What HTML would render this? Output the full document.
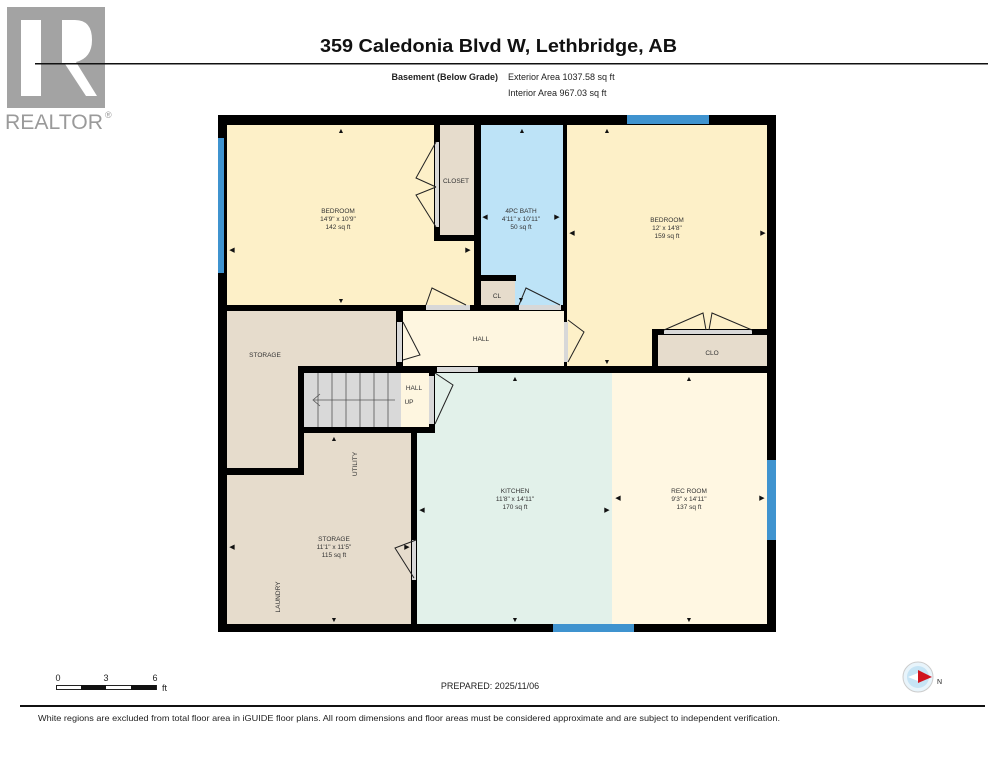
<!DOCTYPE html>
<html><head><meta charset="utf-8"><style>
html,body{margin:0;padding:0;background:#fff;}
svg{display:block;font-family:"Liberation Sans",sans-serif;}
</style></head><body>
<svg width="994" height="768" viewBox="0 0 994 768" xmlns="http://www.w3.org/2000/svg">
<!-- logo -->
<rect x="7" y="7" width="98" height="101" fill="#a3a3a3"/>
<rect x="21" y="20" width="20" height="76" fill="#fff"/>
<path d="M62 20 H75 Q92 20 92 40 Q92 58 76 62 L97 96 H86 L65 64 H62 Z" fill="#fff"/>
<text x="5" y="129" font-size="21" fill="#9a9a9a" textLength="98" lengthAdjust="spacingAndGlyphs">REALTOR</text>
<text x="105" y="118" font-size="9" fill="#9a9a9a">®</text>
<!-- header -->
<text x="320" y="52" font-size="18" font-weight="bold" fill="#111" textLength="357" lengthAdjust="spacingAndGlyphs">359 Caledonia Blvd W, Lethbridge, AB</text>
<rect x="35" y="63" width="953" height="1.5" fill="#111"/>
<text x="498" y="80" font-size="9" font-weight="bold" text-anchor="end" fill="#222">Basement (Below Grade)</text>
<text x="508" y="80" font-size="9" fill="#222">Exterior Area 1037.58 sq ft</text>
<text x="508" y="96" font-size="9" fill="#222">Interior Area 967.03 sq ft</text>

<!-- walls background -->
<rect x="218" y="115" width="558" height="517" fill="#000"/>
<!-- rooms -->
<rect x="227" y="125" width="247" height="180" fill="#fdf0c8"/>
<rect x="440" y="125" width="34" height="110" fill="#e6dccc"/>
<rect x="434" y="125" width="6" height="110" fill="#000"/>
<rect x="434" y="235" width="40" height="6" fill="#000"/>
<rect x="435" y="142" width="4" height="85" fill="#d8d8d8"/>
<rect x="481" y="125" width="82" height="180" fill="#bde3f7"/>
<rect x="481" y="275" width="35" height="6" fill="#000"/>
<rect x="481" y="281" width="34" height="24" fill="#e6dccc"/>
<rect x="567" y="125" width="200" height="241" fill="#fdf0c8"/>
<rect x="652" y="329" width="115" height="6" fill="#000"/>
<rect x="652" y="329" width="6" height="39" fill="#000"/>
<rect x="658" y="335" width="109" height="31" fill="#e6dccc"/>
<rect x="403" y="311" width="161" height="55" fill="#fef6e0"/>
<rect x="227" y="311" width="169" height="157" fill="#e6dccc"/>
<rect x="227" y="475" width="184" height="149" fill="#e6dccc"/>
<rect x="304" y="433" width="107" height="42" fill="#e6dccc"/>
<rect x="417" y="373" width="195" height="251" fill="#e2f1ea"/>
<rect x="612" y="373" width="155" height="251" fill="#fff7e2"/>
<!-- stair walls -->
<rect x="298" y="366" width="140" height="7" fill="#000"/>
<rect x="298" y="366" width="6" height="109" fill="#000"/>
<rect x="298" y="427" width="137" height="6" fill="#000"/>
<rect x="429" y="366" width="6" height="67" fill="#000"/>
<!-- stairs -->
<rect x="304" y="373" width="97" height="54" fill="#d9d9d9"/>
<g stroke="#555" stroke-width="0.8">
<line x1="318" y1="373" x2="318" y2="427"/><line x1="332" y1="373" x2="332" y2="427"/>
<line x1="346" y1="373" x2="346" y2="427"/><line x1="360" y1="373" x2="360" y2="427"/>
<line x1="374" y1="373" x2="374" y2="427"/><line x1="388" y1="373" x2="388" y2="427"/>
<line x1="314" y1="400" x2="395" y2="400"/><polyline points="320,394 313,400 320,406" fill="none"/>
</g>
<rect x="401" y="373" width="28" height="54" fill="#fef6e0"/>
<rect x="429" y="376" width="5" height="48" fill="#d8d8d8"/>
<!-- door gaps -->
<rect x="426" y="305" width="44" height="5" fill="#d8d8d8"/>
<rect x="519" y="305" width="42" height="5" fill="#d8d8d8"/>
<rect x="397" y="322" width="5" height="40" fill="#d8d8d8"/>
<rect x="564" y="322" width="4" height="40" fill="#d8d8d8"/>
<rect x="437" y="367" width="41" height="5" fill="#d8d8d8"/>
<rect x="412" y="540" width="4" height="40" fill="#d8d8d8"/>
<rect x="664" y="330" width="88" height="4" fill="#d8d8d8"/>
<!-- windows -->
<rect x="218" y="138" width="6" height="135" fill="#3f93cf"/>
<rect x="627" y="115" width="82" height="9" fill="#3f93cf"/>
<rect x="767" y="460" width="9" height="80" fill="#3f93cf"/>
<rect x="553" y="624" width="81" height="8" fill="#3f93cf"/>
<!-- door swings -->
<g fill="none" stroke="#222" stroke-width="1">
<polyline points="436,142 416,178 436,187"/><polyline points="436,227 416,195 436,187"/>
<polyline points="426,305 432,288 466,305"/>
<polyline points="519,305 526,288 560,305"/>
<polyline points="403,322 420,355 403,360"/>
<polyline points="568,320 584,332 568,362"/>
<polyline points="664,330 703,313 706,330"/><polyline points="752,330 712,313 709,330"/>
<polyline points="435,373 453,385 435,424"/>
<polyline points="416,540 395,548 414,578"/>
</g>
<!-- labels -->
<g font-size="6.5" fill="#333" text-anchor="middle">
<text x="338" y="213">BEDROOM</text><text x="338" y="221">14'9" x 10'9"</text><text x="338" y="229">142 sq ft</text>
<text x="456" y="183">CLOSET</text>
<text x="521" y="213">4PC BATH</text><text x="521" y="221">4'11" x 10'11"</text><text x="521" y="229">50 sq ft</text>
<text x="497" y="298">CL</text>
<text x="667" y="222">BEDROOM</text><text x="667" y="230">12' x 14'8"</text><text x="667" y="238">159 sq ft</text>
<text x="712" y="355">CLO</text>
<text x="481" y="341">HALL</text>
<text x="265" y="357">STORAGE</text>
<text x="414" y="390">HALL</text><text x="409" y="404">UP</text>
<text x="515" y="493">KITCHEN</text><text x="515" y="501">11'8" x 14'11"</text><text x="515" y="509">170 sq ft</text>
<text x="689" y="493">REC ROOM</text><text x="689" y="501">9'3" x 14'11"</text><text x="689" y="509">137 sq ft</text>
<text x="334" y="541">STORAGE</text><text x="334" y="549">11'1" x 11'5"</text><text x="334" y="557">115 sq ft</text>
<text transform="translate(357,464) rotate(-90)">UTILITY</text>
<text transform="translate(280,597) rotate(-90)">LAUNDRY</text>
</g>
<!-- small arrowheads -->
<g fill="#111" font-size="7" text-anchor="middle">
<text x="341" y="133">▲</text><text x="341" y="303">▼</text><text x="232" y="252">◀</text><text x="468" y="252">▶</text>
<text x="522" y="133">▲</text><text x="485" y="219">◀</text><text x="557" y="219">▶</text><text x="521" y="302">▼</text>
<text x="607" y="133">▲</text><text x="607" y="364">▼</text><text x="572" y="235">◀</text><text x="763" y="235">▶</text>
<text x="515" y="381">▲</text><text x="515" y="622">▼</text><text x="422" y="512">◀</text><text x="607" y="512">▶</text>
<text x="689" y="381">▲</text><text x="689" y="622">▼</text><text x="618" y="500">◀</text><text x="762" y="500">▶</text>
<text x="334" y="441">▲</text><text x="334" y="622">▼</text><text x="232" y="549">◀</text><text x="407" y="549">▶</text>
</g>
<!-- footer -->
<g font-size="9" fill="#222">
<text x="58" y="681" text-anchor="middle">0</text><text x="106" y="681" text-anchor="middle">3</text><text x="155" y="681" text-anchor="middle">6</text>
<text x="162" y="691">ft</text>
</g>
<rect x="56.5" y="685.5" width="100" height="4" fill="#fff" stroke="#222" stroke-width="1"/>
<rect x="81" y="685" width="25" height="5" fill="#111"/><rect x="131" y="685" width="25" height="5" fill="#111"/>
<text x="490" y="689" font-size="9" text-anchor="middle" fill="#222">PREPARED: 2025/11/06</text>
<circle cx="918" cy="677" r="15" fill="#e8f4fb" stroke="#ccc"/>
<circle cx="918" cy="677" r="11" fill="#c6e4f5"/>
<polygon points="908,677 918,673 918,681" fill="#fff"/>
<polygon points="918,670 932,677 918,683" fill="#d0141e"/>
<text x="937" y="684" font-size="7" fill="#222">N</text>
<rect x="20" y="705" width="965" height="2" fill="#111"/>
<text x="38" y="721" font-size="8.5" fill="#222" textLength="742" lengthAdjust="spacingAndGlyphs">White regions are excluded from total floor area in iGUIDE floor plans. All room dimensions and floor areas must be considered approximate and are subject to independent verification.</text>
</svg>
</body></html>
